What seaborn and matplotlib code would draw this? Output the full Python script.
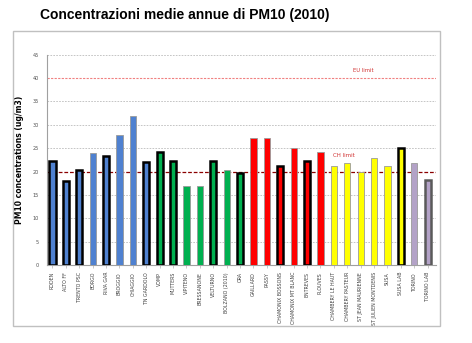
import matplotlib
matplotlib.use("Agg")
import matplotlib.pyplot as plt
import seaborn as sns
from matplotlib.patches import Rectangle

stations = ['RODEN', 'ALTO FF', 'TRENTO PSC', 'BORGO', 'RIVA GAR', 'BROGGIO', 'CHIAGGIO',
            'TN GARDOLO', 'VOMP', 'MUTTERS', 'VIPITENO', 'BRESSANONE', 'VELTURNO',
            'BOLZANO (2010)', 'ORA', 'GAILLARD', 'PASSY', 'CHAMONIX BOSSONS',
            'CHAMONIX MT BLANC', 'ENTREVES', 'PLOUVES', 'CHAMBERY LE HAUT',
            'CHAMBERY PASTEUR', 'ST JEAN MAURIENNE', 'ST JULIEN MONTDENIS', 'SUSA',
            'SUSA LAB', 'TORINO', 'TORINO LAB']
pm10 = [22.2, 17.9, 20.4, 23.9, 23.4, 27.9, 31.9, 22.1, 24.1, 22.2, 17.0, 17.0, 22.3,
        20.4, 19.6, 27.1, 27.1, 21.2, 25.0, 22.2, 24.1, 21.1, 21.9, 20.0, 23.0, 21.1,
        25.1, 21.9, 18.2]
groups = ['blue'] * 8 + ['green'] * 7 + ['red'] * 6 + ['yellow'] * 6 + ['purple'] * 2
bold_edge = [1, 1, 1, 0, 1, 0, 0, 1, 1, 1, 0, 0, 1, 0, 1, 0, 0, 1, 0, 1, 0, 0, 0, 0, 0, 0,
             1, 0, 1]
eu_limit = 40
ch_limit = 20
yticks = [0, 5, 10, 15, 20, 25, 30, 35, 40, 45]

group_colors = {'blue': '#4F81D0', 'green': '#00B050', 'red': '#FF0000',
                'yellow': '#FFFF00', 'purple': '#B3A2C7'}
palette = [group_colors[g] for g in groups]

W, H = 472, 343
fig = plt.figure(figsize=(W / 100, H / 100), dpi=100)
fig.patch.set_facecolor('white')
ax = fig.add_axes([47 / W, 1 - 265 / H, (436 - 47) / W, (265 - 54.7) / H])

sns.barplot(x=stations, y=pm10, hue=stations, palette=palette, legend=False,
            width=0.45, saturation=1, ax=ax, zorder=3)

for p, b, g in zip(ax.patches, bold_edge, groups):
    if b:
        p.set_edgecolor('#5a5a5a' if g == 'purple' else 'black')
        p.set_linewidth(1.8)
    else:
        p.set_edgecolor('#9a9a9a')
        p.set_linewidth(0.6)

ax.set_ylim(0, 45)
ax.set_xlim(-0.41, len(stations) - 1 + 0.62)
ax.set_yticks(yticks)
ax.set_yticklabels([str(v) for v in yticks], fontsize=3.5, color='#505050')
for v in yticks[1:]:
    if v in (eu_limit, ch_limit):
        continue
    ax.axhline(v, color='#bcbcbc', lw=0.6, ls=(0, (2, 1.5)), zorder=1)
ax.axhline(eu_limit, color='#F08080', lw=0.8, ls=(0, (2, 1.2)), zorder=2)
ax.axhline(ch_limit, color='#8B0000', lw=0.9, ls=(0, (3, 1.5)), zorder=2)
ax.annotate('EU limit', xy=(363 / W, 1 - 70 / H), xycoords='figure fraction',
            color='#D03030', fontsize=3.8, ha='center', va='center')
ax.annotate('CH limit', xy=(344 / W, 1 - 155.5 / H), xycoords='figure fraction',
            color='#D03030', fontsize=4, ha='center', va='center')

ax.set_xticks(range(len(stations)))
ax.set_xticklabels(stations, rotation=90, fontsize=3.4, color='#404040', va='top')
ax.tick_params(axis='x', length=2, width=0.4, color='#a0a0a0', pad=3)
ax.tick_params(axis='y', length=0, pad=6)
ax.set_ylabel('PM10 concentrations (ug/m3)', fontsize=5.5, fontweight='bold')
ax.yaxis.set_label_coords(-0.058, 0.5)
for s in ['top', 'right']:
    ax.spines[s].set_visible(False)
ax.spines['left'].set_color('#a0a0a0')
ax.spines['bottom'].set_color('#a0a0a0')
ax.spines['left'].set_linewidth(0.8)
ax.spines['bottom'].set_linewidth(0.8)
ax.set_facecolor('white')

fig.patches.append(Rectangle((13 / W, 1 - 326 / H), (440 - 13) / W, (326 - 31) / H,
                             transform=fig.transFigure, fill=False,
                             edgecolor='#c0c0c0', lw=1.0))
fig.text(40 / W, 1 - 15 / H, 'Concentrazioni medie annue di PM10 (2010)',
         fontsize=10, fontweight='bold', family='Liberation Sans', ha='left',
         va='center')

fig.savefig('out.png', dpi=100)
